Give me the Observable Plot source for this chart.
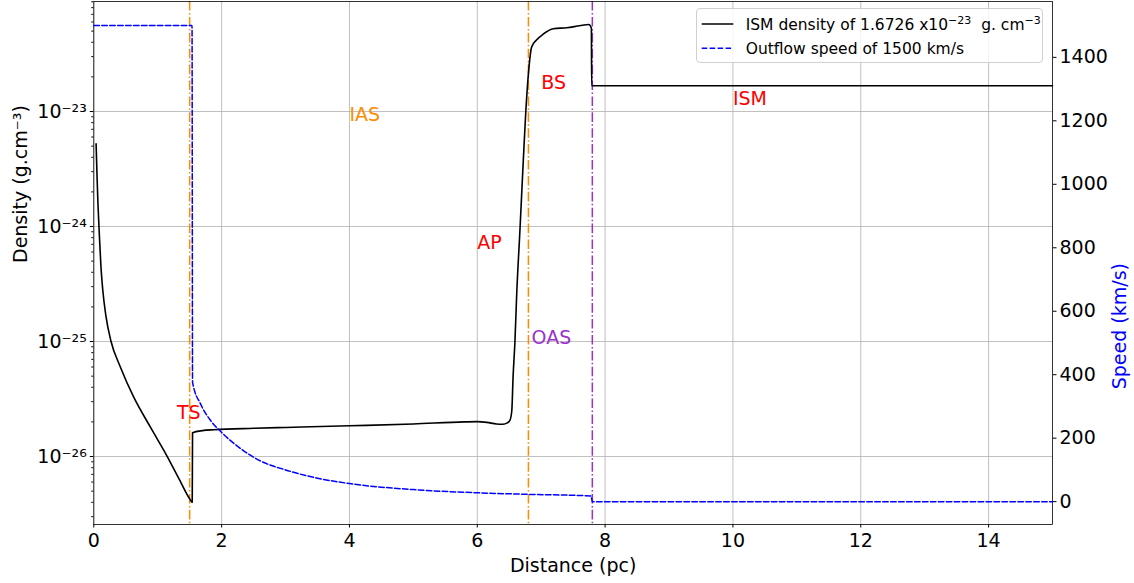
<!DOCTYPE html>
<html><head><meta charset="utf-8">
<script src="https://cdn.jsdelivr.net/npm/d3@7"></script>
<script src="https://cdn.jsdelivr.net/npm/@observablehq/plot@0.6"></script>
<style>
html,body{margin:0;padding:0;background:#fff;}
#wrap{position:relative;width:1134px;height:583px;font-family:"DejaVu Sans",sans-serif;overflow:hidden;}
#wrap > svg{position:absolute;left:0;top:0;}
#legend{position:absolute;left:696px;top:8px;width:347px;height:55px;box-sizing:border-box;border:1px solid #d0d0d0;border-radius:4px;background:rgba(255,255,255,0.8);}
</style></head><body><div id="wrap"></div>
<script>
// ---- data ----
const densityX = [0.036, 0.05, 0.065, 0.085, 0.11, 0.14, 0.19, 0.27, 0.417, 0.625, 0.886, 1.15, 1.33, 1.51, 1.54,
  1.545, 1.7, 1.88, 2.5, 3.0, 4.0, 5.0, 5.8, 6.0, 6.15, 6.3, 6.4, 6.47, 6.51, 6.54, 6.56, 6.59, 6.615, 6.67, 6.72, 6.76, 6.80,
  6.85, 6.93, 7.03, 7.19, 7.40, 7.60, 7.745, 7.785, 7.79, 10.0, 15.0];
const densityVal = [5.25e-24, 2.82e-24, 1.58e-24, 8.9e-25, 4.68e-25, 2.82e-25, 1.66e-25, 1.0e-25, 5.98e-26, 3.28e-26, 1.8e-26, 1.0e-26, 6.45e-27, 4.2e-27, 4.0e-27,
  1.61e-26, 1.68e-26, 1.71e-26, 1.76e-26, 1.79e-26, 1.85e-26, 1.92e-26, 2.0e-26, 2.01e-26, 1.98e-26, 1.92e-26, 1.91e-26, 1.96e-26, 2.06e-26, 2.5e-26, 4.9e-26, 1.02e-25, 2.43e-25, 9.9e-25, 3.75e-24, 1.02e-23, 2.13e-23,
  3.63e-23, 4.2e-23, 4.7e-23, 5.24e-23, 5.35e-23, 5.56e-23, 5.7e-23, 5.3e-23, 1.6726e-23, 1.6726e-23, 1.6726e-23];
const speedX = [0, 1.537, 1.545, 1.67, 1.83, 2.0, 2.34, 2.6, 3.0, 3.5, 4.0, 5.0, 6.0, 6.8, 7.78, 7.8, 10.0, 15.0];
const speedVal = [1500, 1500, 376, 308, 255, 218, 161, 129, 100, 74, 57, 38, 28, 23, 18, 0, 0, 0];

const xTicks = [0, 2, 4, 6, 8, 10, 12, 14];
const densityTicks = [1e-26, 1e-25, 1e-24, 1e-23];
const speedTicks = [0, 200, 400, 600, 800, 1000, 1200, 1400];

const shockX = [1.5, 6.8, 7.8];
const shockColor = ["#ff8c00", "#ff8c00", "#9932cc"];

const labelText = ["TS", "IAS", "AP", "OAS", "BS", "ISM"];
const labelX = [1.3, 4.0, 6.0, 6.85, 7.0, 10.0];
const labelY = [2.1e-26, 8.35e-24, 6.4e-25, 9.5e-26, 1.58e-23, 1.15e-23];
const labelColor = ["red", "#ff8c00", "red", "#9932cc", "red", "red"];

const legendText = ["ISM density of 1.6726 x10", "−23", "  g. cm", "−3", "Outflow speed of 1500 km/s"];

// ---- build ----
const W = 1134, H = 583;
const M = {left: 93.3, right: 82, top: 1, bottom: 59};
const FS = 19;
const supMap = {"-": "⁻", "0": "⁰", "1": "¹", "2": "²", "3": "³", "4": "⁴", "5": "⁵", "6": "⁶", "7": "⁷", "8": "⁸", "9": "⁹"};
const sup = s => String(s).split("").map(c => supMap[c] || c).join("");

const density = densityX.map((x, i) => ({x, v: densityVal[i]}));
const speed = speedX.map((x, i) => ({x, v: speedVal[i]}));
const shocks = shockX.map((x, i) => ({x, c: shockColor[i]}));
const labels = labelText.map((t, i) => ({t, x: labelX[i], y: labelY[i], c: labelColor[i]}));

const dDomain = [Math.pow(10, -26.591), Math.pow(10, -22.0435)];
const minor = [];
for (let e = -27; e <= -23; e++) for (let m = 2; m <= 9; m++) {
  const v = m * Math.pow(10, e);
  if (v >= dDomain[0] && v <= dDomain[1]) minor.push(v);
}

const common = {
  width: W, height: H,
  marginLeft: M.left, marginRight: M.right, marginTop: M.top, marginBottom: M.bottom,
  style: {fontFamily: "DejaVu Sans, sans-serif", fontSize: FS + "px", background: "transparent", overflow: "visible", color: "black"}
};

const dash = "9.6,2.4,1.5,2.4";

const p1 = Plot.plot({
  ...common,
  x: {domain: [0, 15]},
  y: {type: "log", domain: dDomain},
  marks: [
    Plot.gridX({ticks: xTicks, stroke: "#b0b0b0", strokeOpacity: 1, strokeWidth: 0.8}),
    Plot.gridY({ticks: densityTicks, stroke: "#b0b0b0", strokeOpacity: 1, strokeWidth: 0.8}),
    Plot.ruleX(shocks, {x: "x", stroke: "c", strokeWidth: 1.5, strokeDasharray: dash}),
    Plot.line(density, {x: "x", y: "v", stroke: "black", strokeWidth: 1.6, curve: "monotone-x"}),
    Plot.text(labels, {x: "x", y: "y", text: "t", fill: "c", textAnchor: "start", lineAnchor: "bottom", fontSize: FS}),
    Plot.axisX({ticks: xTicks, tickSize: 3.5, tickPadding: 5, tickFormat: d => String(d), label: null, fontSize: FS}),
    Plot.axisY({anchor: "left", ticks: densityTicks, tickSize: 3.5, tickPadding: 3.5, tickFormat: d => "10" + sup(Math.round(Math.log10(d))), label: null, fontSize: FS}),
    Plot.axisY({anchor: "left", ticks: minor, tickSize: 2, tickFormat: () => "", label: null}),
    Plot.text(["Distance (pc)"], {frameAnchor: "bottom", dy: 47, lineAnchor: "bottom", fontSize: FS, fill: "black"}),
    Plot.text(["Density (g.cm⁻³)"], {frameAnchor: "left", dx: -73, rotate: -90, fontSize: FS, fill: "black"}),
    Plot.frame({stroke: "black", strokeWidth: 0.8})
  ]
});

const p2 = Plot.plot({
  ...common,
  x: {domain: [0, 15], axis: null},
  y: {domain: [-72, 1576], axis: null},
  marks: [
    Plot.line(speed, {x: "x", y: "v", stroke: "#0000ff", strokeWidth: 1.5, strokeDasharray: "5.55,2.4", curve: "monotone-x"}),
    Plot.axisY({anchor: "right", ticks: speedTicks, tickSize: 3.5, tickPadding: 3.5, label: null, fontSize: FS, tickFormat: d => String(d)}),
    Plot.text(["Speed (km/s)"], {frameAnchor: "right", dx: 67, rotate: -90, fontSize: FS, fill: "#0000ff"})
  ]
});

const wrap = document.getElementById("wrap");
wrap.appendChild(p1);
wrap.appendChild(p2);

// legend
const lg = document.createElement("div");
lg.id = "legend";
lg.innerHTML = `<svg width="347" height="55" style="position:absolute;left:-1px;top:-1px;font-family:'DejaVu Sans',sans-serif;font-size:15.5px">
  <line x1="5.7" x2="37.3" y1="16" y2="16" stroke="black" stroke-width="1.5"/>
  <line x1="5.7" x2="37.3" y1="40.3" y2="40.3" stroke="#0000ff" stroke-width="1.5" stroke-dasharray="5.55,2.4"/>
  <text x="49.7" y="22" style="white-space:pre">${legendText[0]}<tspan dy="-6.5" font-size="11">${legendText[1]}</tspan><tspan dy="6.5">${legendText[2]}</tspan><tspan dy="-6.5" font-size="11">${legendText[3]}</tspan></text>
  <text x="49.7" y="46" style="white-space:pre">${legendText[4]}</text>
</svg>`;
wrap.appendChild(lg);
</script></body></html>
